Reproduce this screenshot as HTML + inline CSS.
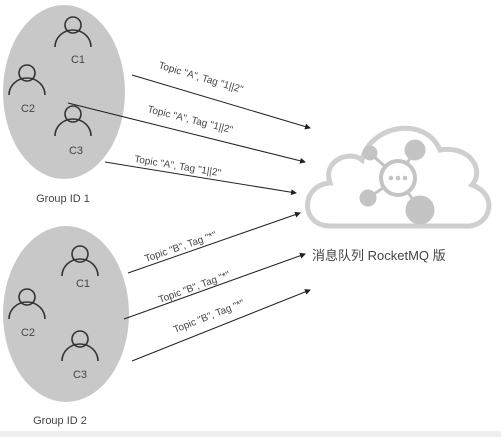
<!DOCTYPE html>
<html><head><style>
html,body{margin:0;padding:0;background:#fff;}
svg{display:block}
text{font-family:"Liberation Sans","Noto Sans CJK SC",sans-serif;fill:#444;}
</style></head><body>
<svg width="501" height="437" viewBox="0 0 501 437">
<defs>
<marker id="a" markerWidth="6" markerHeight="6" refX="5" refY="3" orient="auto" markerUnits="userSpaceOnUse"><path d="M0,0 L6,3 L0,6z" fill="#222"/></marker>
<g id="p"><circle cx="0" cy="0" r="8" fill="none" stroke="#333" stroke-width="1.6"/><path d="M-18,22 A18,17 0 0 1 18,22" fill="none" stroke="#333" stroke-width="1.6"/></g>
</defs>
<rect x="0" y="431" width="501" height="6" fill="#eee"/>
<ellipse cx="64" cy="92" rx="61" ry="87" fill="#c8c8c8"/>
<ellipse cx="66" cy="314" rx="63" ry="88" fill="#c8c8c8"/>
<use href="#p" x="73" y="25"/><text x="78" y="63" font-size="11" text-anchor="middle">C1</text>
<use href="#p" x="27" y="73"/><text x="28" y="112" font-size="11" text-anchor="middle">C2</text>
<use href="#p" x="73" y="114"/><text x="76" y="154" font-size="11" text-anchor="middle">C3</text>
<text x="63" y="202" font-size="11" text-anchor="middle">Group ID 1</text>
<use href="#p" x="80" y="254"/><text x="83" y="287" font-size="11" text-anchor="middle">C1</text>
<use href="#p" x="27" y="297"/><text x="28" y="336" font-size="11" text-anchor="middle">C2</text>
<use href="#p" x="80" y="339"/><text x="80" y="378" font-size="11" text-anchor="middle">C3</text>
<text x="60" y="424" font-size="11" text-anchor="middle">Group ID 2</text>
<g stroke="#222" stroke-width="1" fill="none" marker-end="url(#a)">
<line x1="132" y1="75" x2="310" y2="128"/>
<line x1="68" y1="103" x2="305" y2="162"/>
<line x1="105" y1="162" x2="296" y2="193"/>
<line x1="128" y1="273" x2="300" y2="213"/>
<line x1="124" y1="319" x2="305" y2="254"/>
<line x1="132" y1="361" x2="310" y2="290"/>
</g>
<g font-size="10">
<text transform="translate(158,68) rotate(16.5)">Topic "A", Tag "1||2"</text>
<text transform="translate(147,112) rotate(14)">Topic "A", Tag "1||2"</text>
<text transform="translate(134,162) rotate(9.3)">Topic "A", Tag "1||2"</text>
<text transform="translate(146,262) rotate(-19)">Topic "B", Tag "*"</text>
<text transform="translate(160,303) rotate(-20)">Topic "B", Tag "*"</text>
<text transform="translate(175,333) rotate(-21.5)">Topic "B", Tag "*"</text>
</g>
<path d="M330,226 C300,226 300,185 330,183 C322,160 350,150 362,160 C370,125 425,115 440,150 C470,145 485,170 472,185 C500,195 490,228 465,226 Z" fill="#fff" stroke="#cfcfcf" stroke-width="5"/>
<g fill="#c4c4c4" stroke="#c4c4c4" stroke-width="3">
<line x1="398" y1="178" x2="370" y2="153"/><line x1="398" y1="178" x2="415" y2="150"/>
<line x1="398" y1="178" x2="368" y2="198"/><line x1="398" y1="178" x2="420" y2="210"/>
<circle cx="370" cy="153" r="6"/><circle cx="415" cy="150" r="9"/><circle cx="368" cy="198" r="7"/><circle cx="420" cy="210" r="13"/>
</g>
<circle cx="398" cy="178" r="17" fill="#fff" stroke="#c4c4c4" stroke-width="4"/>
<g fill="#c4c4c4"><circle cx="391" cy="178" r="2.3"/><circle cx="398" cy="178" r="2.3"/><circle cx="405" cy="178" r="2.3"/></g>
<text x="312" y="260" font-size="13">消息队列 RocketMQ 版</text>
</svg>
</body></html>
